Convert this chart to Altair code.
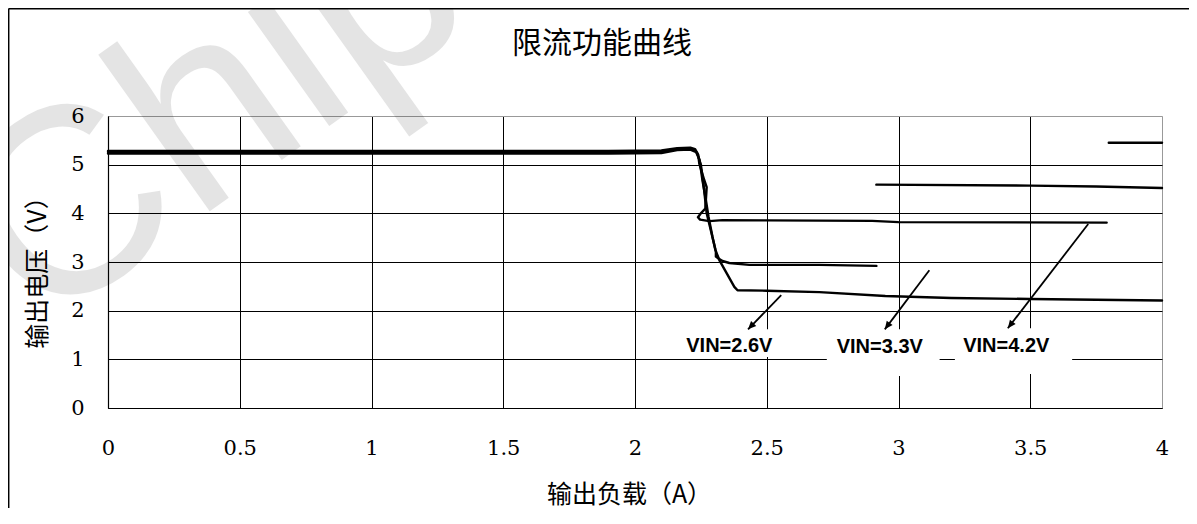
import math
import altair as alt
import pandas as pd

# ---- data ----
# VIN = 4.2 V curve (output load A, output voltage V)
vin42_x = [0.0, 1.9, 2.10, 2.16, 2.21, 2.228, 2.240, 2.244, 2.263, 2.272, 2.267, 2.250, 2.239, 2.247, 2.282, 2.332, 2.50, 2.90, 3.00, 3.79]
vin42_v = [5.28, 5.28, 5.29, 5.34, 5.35, 5.32, 5.20, 5.02, 4.68, 4.54, 4.10, 4.00, 3.92, 3.87, 3.84, 3.86, 3.855, 3.845, 3.82, 3.81]
# VIN = 3.3 V curve
vin33_x = [0.0, 1.9, 2.10, 2.16, 2.21, 2.23, 2.245, 2.256, 2.267, 2.279, 2.294, 2.307, 2.307, 2.317, 2.332, 2.358, 2.434, 2.699, 2.916]
vin33_v = [5.26, 5.26, 5.27, 5.32, 5.33, 5.28, 5.10, 4.68, 4.34, 3.93, 3.52, 3.21, 3.11, 3.07, 3.02, 2.98, 2.94, 2.94, 2.92]
# VIN = 2.6 V curve
vin26_x = [0.0, 1.9, 2.10, 2.16, 2.21, 2.235, 2.25, 2.262, 2.272, 2.29, 2.305, 2.32, 2.377, 2.389, 2.50, 2.70, 2.95, 3.20, 3.50, 4.00]
vin26_v = [5.23, 5.23, 5.24, 5.30, 5.31, 5.25, 5.00, 4.50, 4.00, 3.60, 3.25, 3.04, 2.49, 2.42, 2.41, 2.38, 2.30, 2.26, 2.24, 2.21]
# two stray trace segments at the upper right
seg1_x = [2.916, 3.50, 3.75, 4.00]
seg1_v = [4.59, 4.57, 4.55, 4.52]
seg2_x = [3.798, 4.00]
seg2_v = [5.45, 5.45]

# annotation labels, arrows (start -> tip) and label backgrounds
label_text = ["VIN=2.6V", "VIN=3.3V", "VIN=4.2V"]
label_x = [2.358, 2.929, 3.409]
label_v = [1.265, 1.253, 1.265]
arrow_x1 = [2.555, 3.117, 3.720]
arrow_v1 = [2.32, 2.83, 3.78]
arrow_x2 = [2.429, 2.948, 3.415]
arrow_v2 = [1.616, 1.616, 1.639]
box_x1 = [2.168, 2.728, 3.214]
box_x2 = [2.585, 3.156, 3.659]
box_v1 = [1.05, 0.66, 0.70]
box_v2 = [1.62, 1.62, 1.64]

x_ticks = [0, 0.5, 1, 1.5, 2, 2.5, 3, 3.5, 4]
y_ticks = [0, 1, 2, 3, 4, 5, 6]

chart_title = "限流功能曲线"
watermark_text = "Chip"

W, H = 1054, 292
XMAX, YMAX = 4.0, 6.0

rows = []
for name, xs, vs in [("VIN=4.2V", vin42_x, vin42_v), ("VIN=3.3V", vin33_x, vin33_v),
                     ("VIN=2.6V", vin26_x, vin26_v), ("seg1", seg1_x, seg1_v),
                     ("seg2", seg2_x, seg2_v)]:
    for i, (a, b) in enumerate(zip(xs, vs)):
        rows.append({"series": name, "x": a, "v": b, "i": i})
curves = pd.DataFrame(rows)

ann = pd.DataFrame({
    "label": label_text, "lx": label_x, "lv": label_v,
    "x1": arrow_x1, "v1": arrow_v1, "x2": arrow_x2, "v2": arrow_v2,
    "bx1": box_x1, "bx2": box_x2, "bv1": box_v1, "bv2": box_v2,
})
# arrowhead direction in screen space (degrees clockwise from up)
ann["ang"] = [
    (math.degrees(math.atan2((b - a) * W / XMAX, (d - c) * H / YMAX)) + 360) % 360
    for a, b, c, d in zip(ann.x1, ann.x2, ann.v1, ann.v2)
]

xs = alt.Scale(domain=[0, XMAX], nice=False, zero=False)
ys = alt.Scale(domain=[0, YMAX], nice=False, zero=False)

tick_font = "DejaVu Serif"
cjk = "Noto Sans CJK SC"

x_axis = alt.Axis(
    values=x_ticks, format="~g", title="输出负载（A）", ticks=False,
    labelFont=tick_font, labelFontSize=21, labelColor="#000", labelPadding=29,
    labelFlush=False,
    grid=True, gridColor={"condition": {"test": "datum.value === 4", "value": "#999"}, "value": "#000"},
    gridWidth=1, domainColor="#000", domainWidth=1.2,
    titleFont=cjk, titleFontSize=25, titleFontWeight="normal", titleColor="#000",
    titleX=521, titleY=86, titleBaseline="middle", titleAlign="center",
)
y_axis = alt.Axis(
    values=y_ticks, title="输出电压（V）", ticks=False,
    labelFont=tick_font, labelFontSize=21, labelColor="#000", labelPadding=24,
    labelFlush=False,
    grid=True, gridColor={"condition": {"test": "datum.value === 6", "value": "#999"}, "value": "#000"},
    gridWidth=1, domainColor="#000", domainWidth=1.2,
    titleFont=cjk, titleFontSize=25, titleFontWeight="normal", titleColor="#000",
    titleX=-71, titleY=150, titleAngle=270, titleBaseline="middle", titleAlign="center",
)

base = alt.Chart(curves)

# translucent watermark so that grid lines and texts stay black through it
watermark = alt.Chart(pd.DataFrame({"t": [watermark_text]})).mark_text(
    font="Liberation Sans", fontSize=265, fontWeight="normal", color="#000", opacity=0.1,
    angle=324.5, align="left", baseline="alphabetic",
).encode(x=alt.value(-69), y=alt.value(217), text="t:N")

title = alt.Chart(pd.DataFrame({"t": [chart_title]})).mark_text(
    font=cjk, fontSize=30, color="#000", align="center", baseline="middle",
).encode(x=alt.value(494), y=alt.value(-72), text="t:N")

frame_left = alt.Chart(pd.DataFrame({"a": [0]})).mark_rule(color="#000", strokeWidth=1.5).encode(
    x=alt.value(-99.3), y=alt.value(-107.5), y2=alt.value(410))
frame_top = alt.Chart(pd.DataFrame({"a": [0]})).mark_rule(color="#000", strokeWidth=1.5).encode(
    x=alt.value(-99.3), x2=alt.value(1100), y=alt.value(-107.3))

lines = base.mark_line(color="#000", strokeWidth=2.4, strokeJoin="round", strokeCap="round").encode(
    x=alt.X("x:Q", scale=xs, axis=x_axis),
    y=alt.Y("v:Q", scale=ys, axis=y_axis),
    detail="series:N",
    order="i:Q",
)

boxes = alt.Chart(ann).mark_rect(color="white").encode(
    x=alt.X("bx1:Q", scale=xs), x2="bx2:Q", y=alt.Y("bv1:Q", scale=ys), y2="bv2:Q")

arrows = alt.Chart(ann).mark_rule(color="#000", strokeWidth=1.8).encode(
    x=alt.X("x1:Q", scale=xs), x2="x2:Q", y=alt.Y("v1:Q", scale=ys), y2="v2:Q")

heads = alt.Chart(ann).mark_point(
    shape="M0,0 L-0.45,1 L0.45,1 Z", filled=True, color="#000", opacity=1, size=260,
).encode(
    x=alt.X("x2:Q", scale=xs), y=alt.Y("v2:Q", scale=ys),
    angle=alt.Angle("ang:Q", scale=None),
)

labels = alt.Chart(ann).mark_text(
    font="Liberation Sans", fontWeight="bold", fontSize=20, color="#000",
    align="center", baseline="middle",
).encode(x=alt.X("lx:Q", scale=xs), y=alt.Y("lv:Q", scale=ys), text="label:N")

chart = alt.layer(
    frame_left, frame_top, title, lines, boxes, arrows, heads, labels, watermark
).properties(
    width=W, height=H,
    autosize=alt.AutoSizeParams(type="none"),
    padding={"left": 100, "top": 108, "right": 27, "bottom": 100},
).configure_view(
    stroke="#999", strokeWidth=1,
).configure(
    background="white",
)

chart.save("out.html", embed_options={"renderer": "svg", "actions": False})
